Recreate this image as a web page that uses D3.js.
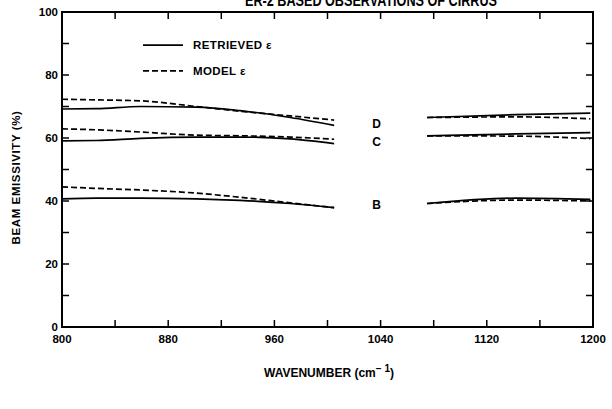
<!DOCTYPE html>
<html>
<head>
<meta charset="utf-8">
<script src="https://cdn.jsdelivr.net/npm/d3@7"></script>
<style>
  body { margin: 0; background: #fff; }
  text { font-family: "Liberation Sans", Arial, sans-serif; font-weight: bold; fill: #000; }
</style>
</head>
<body>
<div id="chart"></div>
<script>
// wavenumbers (two separate segments)
var waveLeft = [800, 826, 859, 901, 934, 972, 1005];
var waveRight = [1075, 1142, 1198];

// band D
var dRetLeft = [69.2, 69.3, 70.0, 69.8, 68.7, 66.5, 64.0];
var dModLeft = [72.3, 72.1, 71.8, 70.0, 68.5, 67.0, 65.7];
var dRetRight = [66.5, 67.4, 67.9];
var dModRight = [66.5, 66.7, 66.1];
// band C
var cRetLeft = [59.1, 59.2, 59.9, 60.3, 60.3, 59.7, 58.2];
var cModLeft = [62.9, 62.6, 61.9, 60.9, 60.7, 60.3, 59.6];
var cRetRight = [60.7, 61.3, 61.7];
var cModRight = [60.7, 60.6, 59.8];
// band B
var bRetLeft = [40.7, 40.9, 40.9, 40.7, 40.2, 39.2, 37.9];
var bModLeft = [44.5, 44.0, 43.5, 42.5, 41.2, 39.4, 37.9];
var bRetRight = [39.2, 40.9, 40.5];
var bModRight = [39.2, 40.3, 40.0];

var xTicks = [800, 840, 880, 920, 960, 1000, 1040, 1080, 1120, 1160, 1200];
var xLabels = [800, 880, 960, 1040, 1120, 1200];
var yTicks = [0, 10, 20, 30, 40, 50, 60, 70, 80, 90, 100];
var yLabels = [0, 20, 40, 60, 80, 100];
var bandNames = ["D", "C", "B"];
var bandLabelY = [64.6, 58.8, 38.6];

var W = 612, H = 409;
var mLeft = 62, mRight = 593, mTop = 12, mBottom = 327;

var svg = d3.select("#chart").append("svg")
  .attr("width", W).attr("height", H);

var x = d3.scaleLinear().domain([800, 1200]).range([mLeft, mRight]);
var y = d3.scaleLinear().domain([0, 100]).range([mBottom, mTop]);

// title, cut off at the top of the picture
svg.append("text")
  .attr("x", 371).attr("y", 6)
  .attr("text-anchor", "middle")
  .attr("textLength", 252)
  .attr("lengthAdjust", "spacingAndGlyphs")
  .style("font-size", "16px")
  .text("ER-2 BASED OBSERVATIONS OF CIRRUS");

// frame
svg.append("rect")
  .attr("x", mLeft).attr("y", mTop)
  .attr("width", mRight - mLeft).attr("height", mBottom - mTop)
  .attr("fill", "none").attr("stroke", "#000").attr("stroke-width", 2);

var tk = 7;
// ticks on all four sides, pointing in
xTicks.forEach(function(t){
  svg.append("line").attr("x1", x(t)).attr("x2", x(t))
    .attr("y1", mBottom).attr("y2", mBottom - tk)
    .attr("stroke", "#000").attr("stroke-width", 1.5);
  svg.append("line").attr("x1", x(t)).attr("x2", x(t))
    .attr("y1", mTop).attr("y2", mTop + tk)
    .attr("stroke", "#000").attr("stroke-width", 1.5);
});
yTicks.forEach(function(t){
  svg.append("line").attr("x1", mLeft).attr("x2", mLeft + tk)
    .attr("y1", y(t)).attr("y2", y(t))
    .attr("stroke", "#000").attr("stroke-width", 1.5);
  svg.append("line").attr("x1", mRight).attr("x2", mRight - tk)
    .attr("y1", y(t)).attr("y2", y(t))
    .attr("stroke", "#000").attr("stroke-width", 1.5);
});

svg.selectAll(".xl").data(xLabels).enter().append("text")
  .attr("x", function(d){ return x(d); })
  .attr("y", mBottom + 16)
  .attr("text-anchor", "middle")
  .style("font-size", "11.5px")
  .text(function(d){ return d; });

svg.selectAll(".yl").data(yLabels).enter().append("text")
  .attr("x", mLeft - 4)
  .attr("y", function(d){ return y(d) + 4; })
  .attr("text-anchor", "end")
  .style("font-size", "11.5px")
  .text(function(d){ return d; });

// axis titles
var xt = svg.append("text")
  .attr("x", 329).attr("y", mBottom + 50)
  .attr("text-anchor", "middle")
  .style("font-size", "12px");
xt.append("tspan").text("WAVENUMBER (cm");
xt.append("tspan").attr("dy", -5).style("font-size", "10px").text("\u2212 1");
xt.append("tspan").attr("dy", 5).text(")");

svg.append("text")
  .attr("transform", "translate(20," + ((mTop + mBottom) / 2 + 8) + ") rotate(-90)")
  .attr("text-anchor", "middle")
  .style("font-size", "11.5px")
  .style("letter-spacing", "0.6px")
  .text("BEAM EMISSIVITY (%)");

// curves
var line = d3.line()
  .x(function(d){ return x(d[0]); })
  .y(function(d){ return y(d[1]); })
  .curve(d3.curveMonotoneX);

function draw(waves, vals, dashed){
  var pts = waves.map(function(w, i){ return [w, vals[i]]; });
  svg.append("path")
    .datum(pts)
    .attr("d", line)
    .attr("fill", "none")
    .attr("stroke", "#000")
    .attr("stroke-width", 1.7)
    .attr("stroke-dasharray", dashed ? "6,3" : null);
}

draw(waveLeft, dRetLeft, false); draw(waveLeft, dModLeft, true);
draw(waveLeft, cRetLeft, false); draw(waveLeft, cModLeft, true);
draw(waveLeft, bRetLeft, false); draw(waveLeft, bModLeft, true);
draw(waveRight, dRetRight, false); draw(waveRight, dModRight, true);
draw(waveRight, cRetRight, false); draw(waveRight, cModRight, true);
draw(waveRight, bRetRight, false); draw(waveRight, bModRight, true);

// band letters in the gap
svg.selectAll(".band").data(bandNames).enter().append("text")
  .attr("x", x(1037))
  .attr("y", function(d, i){ return y(bandLabelY[i]) + 4; })
  .attr("text-anchor", "middle")
  .style("font-size", "12px")
  .text(function(d){ return d; });

// legend
var legY = [y(89.5), y(81.3)];
svg.append("line").attr("x1", 143).attr("x2", 183)
  .attr("y1", legY[0]).attr("y2", legY[0])
  .attr("stroke", "#000").attr("stroke-width", 1.7);
svg.append("line").attr("x1", 143).attr("x2", 183)
  .attr("y1", legY[1]).attr("y2", legY[1])
  .attr("stroke", "#000").attr("stroke-width", 1.7)
  .attr("stroke-dasharray", "6,3");
svg.append("text").attr("x", 193).attr("y", legY[0] + 4)
  .style("font-size", "11.5px").style("letter-spacing", "0.4px")
  .text("RETRIEVED \u03B5");
svg.append("text").attr("x", 193).attr("y", legY[1] + 4)
  .style("font-size", "11.5px").style("letter-spacing", "0.4px")
  .text("MODEL \u03B5");
</script>
</body>
</html>
